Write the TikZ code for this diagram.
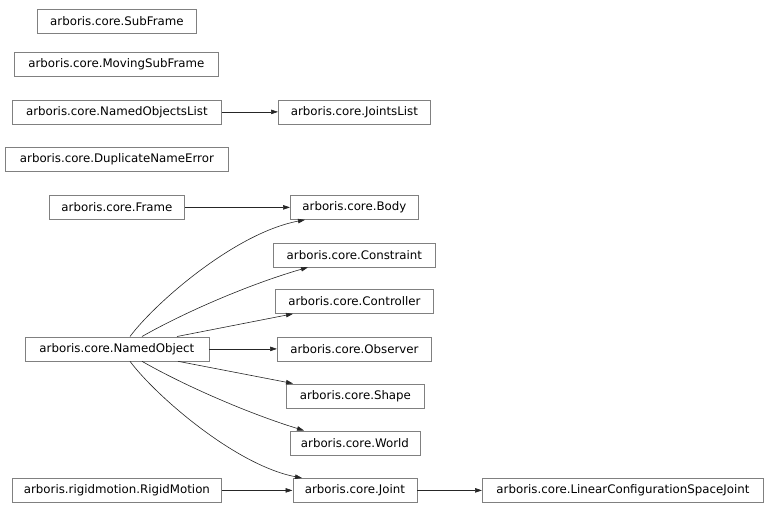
\documentclass[tikz,border=0pt]{standalone}
\usepackage{fontspec}
\setmainfont{DejaVu Sans}
\usetikzlibrary{arrows.meta,calc}
\begin{document}
\begin{tikzpicture}[x=1pt,y=-1pt,
  cls/.style={draw=black!50, line width=0.8pt, fill=white, inner sep=0pt, minimum height=24pt, font=\fontsize{11.8}{12}\selectfont, anchor=north west},
  inh/.style={draw=black!85, line width=0.6pt, -{Triangle[length=7pt,width=4.5pt]}}]
\useasboundingbox (0,0) rectangle (768,507);
\node[cls, minimum width=159pt] (subframe) at (37,9) {arboris.core.SubFrame};
\node[cls, minimum width=204pt] (moving) at (14,52) {arboris.core.MovingSubFrame};
\node[cls, minimum width=209pt] (nol) at (12,99.5) {arboris.core.NamedObjectsList};
\node[cls, minimum width=152pt] (jl) at (278,99.5) {arboris.core.JointsList};
\node[cls, minimum width=223pt] (dup) at (5,147) {arboris.core.DuplicateNameError};
\node[cls, minimum width=135pt] (frame) at (49,195) {arboris.core.Frame};
\node[cls, minimum width=128pt] (body) at (290,195) {arboris.core.Body};
\node[cls, minimum width=162pt] (constraint) at (273,242.5) {arboris.core.Constraint};
\node[cls, minimum width=158pt] (controller) at (275,289) {arboris.core.Controller};
\node[cls, minimum width=184pt] (namedobj) at (24.5,336.5) {arboris.core.NamedObject};
\node[cls, minimum width=154pt] (observer) at (277,336.5) {arboris.core.Observer};
\node[cls, minimum width=138pt] (shape) at (286,383.5) {arboris.core.Shape};
\node[cls, minimum width=130pt] (world) at (289.5,430.5) {arboris.core.World};
\node[cls, minimum width=209pt] (rigid) at (12,478) {arboris.rigidmotion.RigidMotion};
\node[cls, minimum width=124pt] (joint) at (292.5,478) {arboris.core.Joint};
\node[cls, minimum width=281pt] (lcsj) at (482,478) {arboris.core.LinearConfigurationSpaceJoint};

% anchor points on NamedObject
\coordinate (noT1) at ($(namedobj.north west)+(105.5,0)$);
\coordinate (noT2) at ($(namedobj.north west)+(117.5,0)$);
\coordinate (noT3) at ($(namedobj.north west)+(152.5,0)$);
\coordinate (noB1) at ($(namedobj.south west)+(105.5,0)$);
\coordinate (noB2) at ($(namedobj.south west)+(117.5,0)$);
\coordinate (noB3) at ($(namedobj.south west)+(153.5,0)$);
% target points
\coordinate (bodyIn) at ($(body.south west)+(15,0)$);
\coordinate (conIn) at ($(constraint.south west)+(35,0)$);
\coordinate (ctlIn) at ($(controller.south west)+(18,0)$);
\coordinate (shpIn) at ($(shape.north west)+(7,0)$);
\coordinate (wldIn) at ($(world.north west)+(14.5,0)$);
\coordinate (jntIn) at ($(joint.north west)+(9.5,0)$);

\draw[inh] (nol.east) -- (jl.west);
\draw[inh] (frame.east) -- (body.west);
\draw[inh] (namedobj.east) -- (observer.west);
\draw[inh] (rigid.east) -- (joint.west);
\draw[inh] (joint.east) -- (lcsj.west);
\draw[inh] (noT1) .. controls (155,303) and (235,233) .. (bodyIn);
\draw[inh] (noT2) .. controls (185,312) and (250,284) .. (conIn);
\draw[inh] (noT3) -- (ctlIn);
\draw[inh] (noB3) -- (shpIn);
\draw[inh] (noB2) .. controls (185,386) and (250,414) .. (wldIn);
\draw[inh] (noB1) .. controls (155,395) and (235,465) .. (jntIn);
\end{tikzpicture}
\end{document}
